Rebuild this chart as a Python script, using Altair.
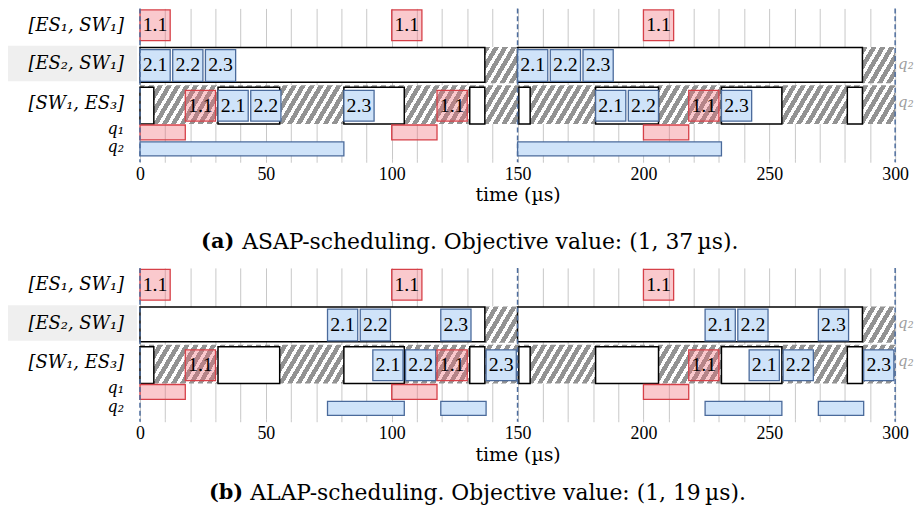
import altair as alt
import pandas as pd

FONT_ROW = "DejaVu Serif"
FONT_NUM = "Liberation Serif"
FONT_CAP = "DejaVu Serif"

# ---------------- data ----------------
FRAME_LEN = 12                      # transmission time of every frame (µs)
TICKS = list(range(0, 301, 10))     # grid every 10 µs, labels every 50 µs
CYCLE = [0, 150, 300]               # hyper-period marks (dashed)

ROW_NAMES = ["[ES₁, SW₁]", "[ES₂, SW₁]", "[SW₁, ES₃]"]
QUEUE_NAMES = ["q₁", "q₂"]
TAG_TEXT = ["q₂", "q₂"]

# gate windows (same in both schedules)
L2_OPEN_START = [0, 150]
L2_OPEN_END = [137, 287]
L2_CLOSED_START = [137, 287]
L2_CLOSED_END = [150, 300]
L3_OPEN_START = [0, 31, 81, 131, 150.5, 181, 231, 281]
L3_OPEN_END = [5.5, 55.5, 105, 137, 155, 206, 255, 287]
L3_CLOSED_START = [0]
L3_CLOSED_END = [300]

# (a) ASAP
A_L1_LABEL = ["1.1", "1.1", "1.1"]
A_L1_START = [0, 100, 200]
A_L2_LABEL = ["2.1", "2.2", "2.3", "2.1", "2.2", "2.3"]
A_L2_START = [0, 13, 26, 150, 163, 176]
A_L3_LABEL = ["1.1", "2.1", "2.2", "2.3", "1.1", "2.1", "2.2", "1.1", "2.3"]
A_L3_START = [18, 31, 44, 81, 118, 181, 194, 218, 231]
A_Q1_START = [0, 100, 200]
A_Q1_END = [18, 118, 218]
A_Q2_START = [0, 150]
A_Q2_END = [81, 231]
A_CAP_TAG = "(a)"
A_CAP_TEXT = "ASAP-scheduling. Objective value: (1, 37\u2009µs)."

# (b) ALAP
B_L1_LABEL = ["1.1", "1.1", "1.1"]
B_L1_START = [0, 100, 200]
B_L2_LABEL = ["2.1", "2.2", "2.3", "2.1", "2.2", "2.3"]
B_L2_START = [74.5, 87.5, 119.5, 224.5, 237.5, 269.5]
B_L3_LABEL = ["1.1", "2.1", "2.2", "1.1", "2.3", "1.1", "2.1", "2.2", "2.3"]
B_L3_START = [18, 92.5, 105.5, 118, 137.5, 218, 242, 255.5, 287.5]
B_Q1_START = [0, 100, 200]
B_Q1_END = [18, 118, 218]
B_Q2_START = [74.5, 119.5, 224.5, 269.5]
B_Q2_END = [105, 137.5, 255, 287.5]
B_CAP_TAG = "(b)"
B_CAP_TEXT = "ALAP-scheduling. Objective value: (1, 19\u2009µs)."

# ---------------- layout / style ----------------
PLOT_W, PLOT_H = 761, 152
LANE_FRAME = {"l1": (1.5, 32.5), "l2": (41.5, 73.5), "l3": (82.5, 113.5)}
LANE_QUEUE = {"q1": (117.5, 132.5), "q2": (134.5, 148.5)}
LANE_OPEN = {"l2": (39.5, 74.5), "l3": (79.5, 116.5)}
LANE_CLOSED = {"l2": (39, 75.5), "l3": (77.5, 116.5)}
ROW_LABEL_Y = [17.5, 56.5, 96]
QUEUE_LABEL_Y = [121.5, 140]
HIGHLIGHT_Y = (37.5, 73.5)
TAG_Y = [56, 94]

RED_FILL, RED_OP, RED_STROKE = "#f06a74", 0.36, "#d64048"
BLUE_FILL, BLUE_STROKE = "#cfe3f9", "#4a6a9b"
HATCH_GRAY = "#939393"

XS = alt.Scale(domain=[0, 300], nice=False, zero=False)
YS = alt.Scale(domain=[0, PLOT_H], reverse=True, nice=False, zero=False)
AX = alt.Axis(values=TICKS, labelExpr="datum.value % 50 === 0 ? datum.label : ''",
              grid=True, gridColor="#c8c8c8", gridWidth=1, domain=False,
              ticks=True, tickColor="#c8c8c8", tickSize=3,
              labelFont=FONT_NUM, labelFontSize=18, labelColor="black", labelPadding=3,
              labelOverlap=False, labelFlush=False,
              title="time (µs)", titleFont=FONT_CAP, titleFontSize=19, titleFontWeight="normal",
              titleColor="black", titlePadding=3)


def hatch(W, H, r=1.7, P=9.0, frac=0.58):
    S = W + H / r
    n = S / P
    den = W * W + (H / r) ** 2
    stops = []
    k = 0
    while k / n < 1:
        a = k / n
        b = min((k + frac) / n, 1)
        c = min((k + 1) / n, 1)
        stops += [{"offset": a, "color": HATCH_GRAY}, {"offset": b, "color": HATCH_GRAY},
                  {"offset": b, "color": "#ffffff"}, {"offset": c, "color": "#ffffff"}]
        k += 1
    return {"gradient": "linear", "x1": 0, "y1": 0,
            "x2": W * S / den, "y2": (H / r) * S / den, "stops": stops}


def frames(lane, labels, starts):
    y0, y1 = LANE_FRAME[lane]
    df = pd.DataFrame({"start": starts, "label": labels})
    df["end"] = df["start"] + FRAME_LEN
    df["flow"] = df["label"].str[0]
    df["y0"], df["y1"] = y0, y1
    return df


def spans(starts, ends, lane_dict, lane):
    y0, y1 = lane_dict[lane]
    return pd.DataFrame({"start": starts, "end": ends, "y0": y0, "y1": y1})


def rects(df, **mk):
    return alt.Chart(df).mark_rect(**mk).encode(
        x=alt.X("start:Q", scale=XS, axis=AX), x2="end:Q",
        y=alt.Y("y0:Q", scale=YS, axis=None), y2="y1:Q")


def label_text(names, ys, size, x, align, color):
    return alt.Chart(pd.DataFrame({"name": names, "y": ys})).mark_text(
        font=FONT_ROW, fontSize=size, fontStyle="italic", align=align, baseline="middle",
        color=color).encode(x=alt.value(x), y=alt.Y("y:Q", scale=YS, axis=None), text="name:N")


def panel(l1, l2, l3, q1, q2, tag, text, tag_x, text_x, cap_y):
    fr = pd.concat([frames("l1", *l1), frames("l2", *l2), frames("l3", *l3)], ignore_index=True)
    fr["xm"] = (fr["start"] + fr["end"]) / 2
    fr["ym"] = (fr["y0"] + fr["y1"]) / 2
    red = fr[fr["flow"] == "1"]
    blue = fr[fr["flow"] == "2"]

    h3 = spans(L3_CLOSED_START, L3_CLOSED_END, LANE_CLOSED, "l3")
    h2 = spans(L2_CLOSED_START, L2_CLOSED_END, LANE_CLOSED, "l2")
    opened = pd.concat([spans(L2_OPEN_START, L2_OPEN_END, LANE_OPEN, "l2"),
                        spans(L3_OPEN_START, L3_OPEN_END, LANE_OPEN, "l3")], ignore_index=True)
    qq1 = spans(q1[0], q1[1], LANE_QUEUE, "q1")
    qq2 = spans(q2[0], q2[1], LANE_QUEUE, "q2")

    sx = PLOT_W / 300.0
    g3 = hatch((L3_CLOSED_END[0] - L3_CLOSED_START[0]) * sx, LANE_CLOSED["l3"][1] - LANE_CLOSED["l3"][0])
    g2 = hatch((L2_CLOSED_END[0] - L2_CLOSED_START[0]) * sx, LANE_CLOSED["l2"][1] - LANE_CLOSED["l2"][0])

    highlight = alt.Chart(pd.DataFrame({"y0": [HIGHLIGHT_Y[0]], "y1": [HIGHLIGHT_Y[1]]})).mark_rect(
        color="#efefef").encode(x=alt.value(-133), x2=alt.value(-3),
                                y=alt.Y("y0:Q", scale=YS, axis=None), y2="y1:Q")

    layers = [
        highlight,
        rects(h3, fill=g3),
        rects(h2, fill=g2),
        rects(opened, fill="white", stroke="black", strokeWidth=1.5),
        rects(blue, fill=BLUE_FILL, stroke=BLUE_STROKE, strokeWidth=1.3),
        rects(qq2, fill=BLUE_FILL, stroke=BLUE_STROKE, strokeWidth=1.3),
        rects(red, fill=RED_FILL, fillOpacity=RED_OP, stroke=RED_STROKE, strokeWidth=1.3),
        rects(qq1, fill=RED_FILL, fillOpacity=RED_OP, stroke=RED_STROKE, strokeWidth=1.3),
        alt.Chart(fr).mark_text(font=FONT_NUM, fontSize=20, color="black", baseline="middle").encode(
            x=alt.X("xm:Q", scale=XS, axis=AX), y=alt.Y("ym:Q", scale=YS, axis=None), text="label:N"),
        alt.Chart(pd.DataFrame({"t": CYCLE})).mark_rule(
            color="#4d6d9e", strokeDash=[5, 3], strokeWidth=1.5).encode(
            x=alt.X("t:Q", scale=XS, axis=AX), y=alt.value(0), y2=alt.value(PLOT_H + 3)),
        label_text(ROW_NAMES, ROW_LABEL_Y, 18, -16, "right", "black"),
        label_text(QUEUE_NAMES, QUEUE_LABEL_Y, 16, -16, "right", "black"),
        label_text(TAG_TEXT, TAG_Y, 15, PLOT_W + 3, "left", "#a0a0a0"),
        alt.Chart(pd.DataFrame({"t": [tag]})).mark_text(
            font=FONT_CAP, fontSize=21, fontWeight="bold", align="right", baseline="middle",
            color="black").encode(x=alt.value(tag_x), y=alt.value(cap_y), text="t:N"),
        alt.Chart(pd.DataFrame({"t": [text]})).mark_text(
            font=FONT_CAP, fontSize=22, align="left", baseline="middle",
            color="black").encode(x=alt.value(text_x), y=alt.value(cap_y), text="t:N"),
    ]
    return alt.layer(*layers).properties(width=PLOT_W, height=PLOT_H)


pa = panel((A_L1_LABEL, A_L1_START), (A_L2_LABEL, A_L2_START), (A_L3_LABEL, A_L3_START),
           (A_Q1_START, A_Q1_END), (A_Q2_START, A_Q2_END), A_CAP_TAG, A_CAP_TEXT, 95, 103, 235.5)
pb = panel((B_L1_LABEL, B_L1_START), (B_L2_LABEL, B_L2_START), (B_L3_LABEL, B_L3_START),
           (B_Q1_START, B_Q1_END), (B_Q2_START, B_Q2_END), B_CAP_TAG, B_CAP_TEXT, 104, 111, 226.5)

chart = alt.vconcat(pa, pb, spacing=13.5).properties(
    padding={"left": 0, "top": -2.5, "right": 0, "bottom": 0}
).configure_view(stroke=None)

chart.save("out.html", embed_options={"renderer": "svg", "actions": False})
